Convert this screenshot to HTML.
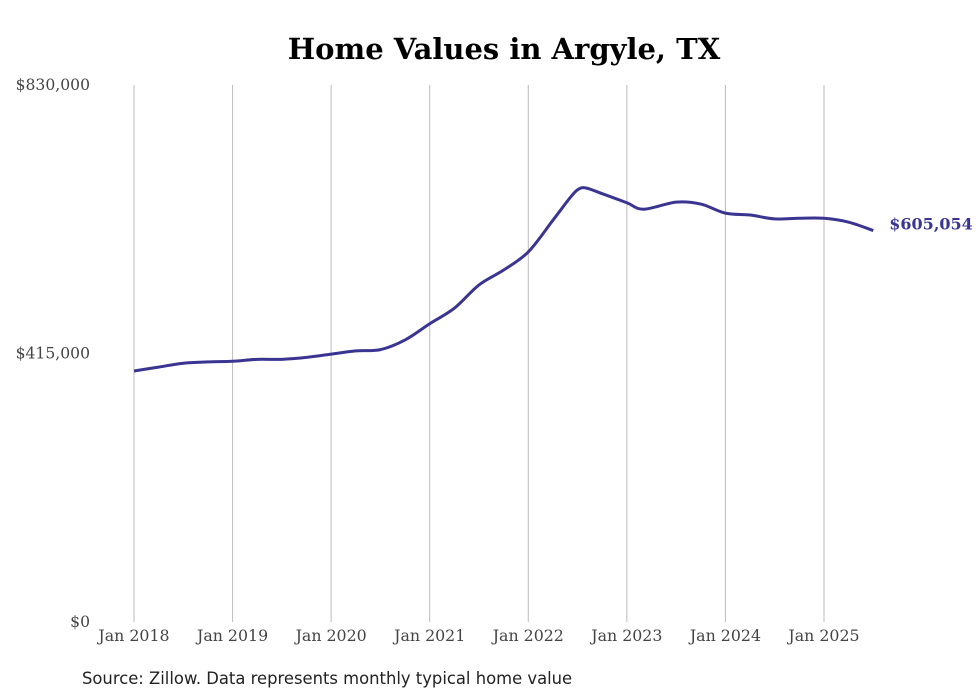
<!DOCTYPE html>
<html><head><meta charset="utf-8"><style>
body{margin:0;background:#fff;}
svg{display:block;}
</style></head><body>
<svg id="chart" width="980" height="699" xmlns="http://www.w3.org/2000/svg">
<text x="504" y="59" text-anchor="middle" font-family="DejaVu Serif, Liberation Serif, serif" font-weight="bold" font-size="29" fill="#000">Home Values in Argyle, TX</text>
<g id="grid"></g>
<g id="yaxis"></g>
<g id="xaxis"></g>
<g id="series"></g>
<text x="82" y="684" font-family="DejaVu Sans, Liberation Sans, sans-serif" font-size="16.4" fill="#222">Source: Zillow. Data represents monthly typical home value</text>
</svg>
<script>
const xTickYears=[2018,2019,2020,2021,2022,2023,2024,2025];
const xTickLabels=["Jan 2018","Jan 2019","Jan 2020","Jan 2021","Jan 2022","Jan 2023","Jan 2024","Jan 2025"];
const yTicks=[0,415000,830000];
const yTickLabels=["$0","$415,000","$830,000"];
const dates=[2018.0,2018.25,2018.5,2018.75,2019.0,2019.25,2019.5,2019.75,2020.0,2020.25,2020.5,2020.75,2021.0,2021.25,2021.5,2021.75,2022.0,2022.25,2022.42,2022.5,2022.58,2022.75,2023.0,2023.17,2023.5,2023.75,2024.0,2024.25,2024.5,2024.75,2025.0,2025.25,2025.5];
const values=[388000,394000,400000,402000,403000,406000,406000,409000,414000,419000,421000,436000,461000,485000,521000,544000,572000,621000,655000,668000,671000,662000,648000,638000,649000,646000,632000,629000,623000,624000,624000,618000,605054];
const lastLabel="$605,054";
const NS="http://www.w3.org/2000/svg";
const x0=134,x1=824,y0=622,y1=85;
const xs=t=>x0+(t-2018)*(x1-x0)/7;
const ys=v=>y0-v*(y0-y1)/830000;
function mk(tag,attrs,parent){const e=document.createElementNS(NS,tag);for(const k in attrs)e.setAttribute(k,attrs[k]);parent.appendChild(e);return e;}
const grid=document.getElementById('grid'),xa=document.getElementById('xaxis'),ya=document.getElementById('yaxis'),se=document.getElementById('series');
xTickYears.forEach((y,i)=>{
 const l=mk('line',{x1:xs(y),x2:xs(y),y1:y1,y2:y0,stroke:'#bbb','stroke-width':1},grid);
 
 
 const t=mk('text',{x:xs(y),y:641,'text-anchor':'middle','font-family':'DejaVu Serif, Liberation Serif, serif','font-size':15.8,fill:'#444'},xa);
 t.textContent=xTickLabels[i];
 
 
});
yTicks.forEach((v,i)=>{
 const t=mk('text',{x:90,y:ys(v)+5,'text-anchor':'end','font-family':'DejaVu Serif, Liberation Serif, serif','font-size':15.6,fill:'#444'},ya);
 t.textContent=yTickLabels[i];
 
 
});
const pts=dates.map((d,i)=>[xs(d),ys(values[i])]);
let d='M'+pts[0][0]+','+pts[0][1];
for(let i=0;i<pts.length-1;i++){
 const p0=pts[Math.max(0,i-1)],p1=pts[i],p2=pts[i+1],p3=pts[Math.min(pts.length-1,i+2)];
 const c1=[p1[0]+(p2[0]-p0[0])/6,p1[1]+(p2[1]-p0[1])/6];
 const c2=[p2[0]-(p3[0]-p1[0])/6,p2[1]-(p3[1]-p1[1])/6];
 d+=' C'+c1[0]+','+c1[1]+' '+c2[0]+','+c2[1]+' '+p2[0]+','+p2[1];
}
const path=mk('path',{d:d,fill:'none',stroke:'#3b3592','stroke-width':3,'stroke-linejoin':'round'},se);


const lp=pts[pts.length-1];
const lt=mk('text',{x:lp[0]+16,y:lp[1]-1,'font-family':'DejaVu Serif, Liberation Serif, serif','font-weight':'bold','font-size':16,fill:'#3b3592'},se);
lt.textContent=lastLabel;


</script>
</body></html>
